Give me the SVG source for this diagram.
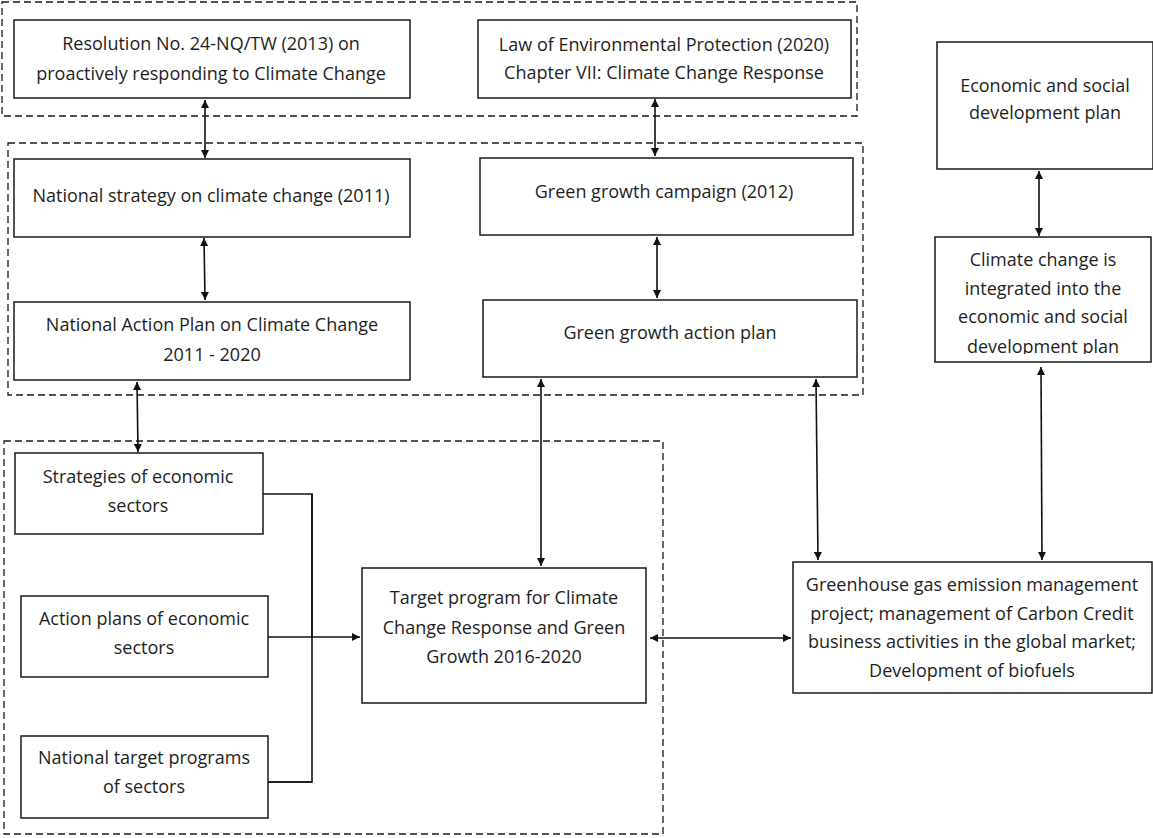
<svg xmlns="http://www.w3.org/2000/svg" width="1153" height="838" viewBox="0 0 1153 838">
  <defs>
    <style>
      .box { fill: #ffffff; stroke: #1a1a1a; stroke-width: 1.5; }
      .group { fill: none; stroke: #1a1a1a; stroke-width: 1.3; stroke-dasharray: 7 4; }
      .t { font-family: "Open Sans", "Noto Sans", sans-serif; font-size: 18px; fill: #1e1e1e; text-anchor: middle; }
      .link { fill: none; stroke: #111111; stroke-width: 1.6; }
      .arr { marker-end: url(#head); }
      .both { marker-start: url(#head); marker-end: url(#head); }
    </style>
    <marker id="head" viewBox="0 0 10 10" refX="10" refY="5" markerWidth="9" markerHeight="8" markerUnits="userSpaceOnUse" orient="auto-start-reverse">
      <path d="M0,0 L10,5 L0,10 z" fill="#111111"/>
    </marker>
    <clipPath id="clip-integrated">
      <rect x="935" y="237" width="216" height="117"/>
    </clipPath>
  </defs>

  <!-- dashed groupings -->
  <g id="groups">
    <rect class="group" x="2" y="2" width="855" height="114"/>
    <rect class="group" x="8" y="143" width="855" height="252"/>
    <rect class="group" x="4" y="441" width="659" height="393"/>
  </g>

  <!-- connectors -->
  <g id="connectors">
    <line class="link both" x1="205" y1="100" x2="205" y2="158"/>
    <line class="link both" x1="655" y1="99" x2="655" y2="156"/>
    <line class="link both" x1="204" y1="238" x2="205" y2="300"/>
    <line class="link both" x1="657" y1="237" x2="657" y2="298"/>
    <line class="link both" x1="137" y1="382" x2="138" y2="452"/>
    <line class="link both" x1="541" y1="379" x2="541" y2="566"/>
    <line class="link both" x1="816" y1="379" x2="818" y2="560"/>
    <line class="link both" x1="1041" y1="367" x2="1042" y2="560"/>
    <line class="link both" x1="1039" y1="171" x2="1039" y2="236"/>
    <line class="link both" x1="650" y1="638" x2="791" y2="638"/>
    <!-- sector inputs merge into one feed -->
    <polyline class="link" points="263,494 312,494 312,637"/>
    <line class="link" x1="312" y1="494" x2="312" y2="637" stroke-width="3"/>
    <polyline class="link" points="312,637 312,782 268,782"/>
    <line class="link" x1="268" y1="782" x2="312" y2="782" stroke-width="2.4"/>
    <line class="link arr" x1="268" y1="637" x2="360" y2="637"/>
  </g>

  <!-- nodes -->
  <g id="resolution">
    <rect class="box" x="14" y="20" width="396" height="78"/>
    <text class="t" x="211" y="50">Resolution No. 24-NQ/TW (2013) on</text>
    <text class="t" x="211" y="80">proactively responding to Climate Change</text>
  </g>
  <g id="law">
    <rect class="box" x="478" y="20" width="373" height="78"/>
    <text class="t" x="664" y="51">Law of Environmental Protection (2020)</text>
    <text class="t" x="664" y="79">Chapter VII: Climate Change Response</text>
  </g>
  <g id="economic-plan">
    <rect class="box" x="937" y="42" width="216" height="127"/>
    <text class="t" x="1045" y="92">Economic and social</text>
    <text class="t" x="1045" y="119">development plan</text>
  </g>
  <g id="national-strategy">
    <rect class="box" x="14" y="159" width="396" height="78"/>
    <text class="t" x="211" y="202">National strategy on climate change (2011)</text>
  </g>
  <g id="green-campaign">
    <rect class="box" x="480" y="158" width="373" height="77"/>
    <text class="t" x="664" y="198">Green growth campaign (2012)</text>
  </g>
  <g id="climate-integrated">
    <rect class="box" x="935" y="237" width="216" height="125"/>
    <g clip-path="url(#clip-integrated)">
      <text class="t" x="1043" y="266">Climate change is</text>
      <text class="t" x="1043" y="295">integrated into the</text>
      <text class="t" x="1043" y="323">economic and social</text>
      <text class="t" x="1043" y="353">development plan</text>
    </g>
  </g>
  <g id="national-action-plan">
    <rect class="box" x="14" y="302" width="396" height="78"/>
    <text class="t" x="212" y="331">National Action Plan on Climate Change</text>
    <text class="t" x="212" y="361">2011 - 2020</text>
  </g>
  <g id="green-action-plan">
    <rect class="box" x="483" y="300" width="374" height="77"/>
    <text class="t" x="670" y="339">Green growth action plan</text>
  </g>
  <g id="sector-strategies">
    <rect class="box" x="15" y="453" width="248" height="81"/>
    <text class="t" x="138" y="483">Strategies of economic</text>
    <text class="t" x="138" y="512">sectors</text>
  </g>
  <g id="sector-action-plans">
    <rect class="box" x="21" y="596" width="247" height="81"/>
    <text class="t" x="144" y="625">Action plans of economic</text>
    <text class="t" x="144" y="654">sectors</text>
  </g>
  <g id="sector-target-programs">
    <rect class="box" x="21" y="736" width="247" height="82"/>
    <text class="t" x="144" y="764">National target programs</text>
    <text class="t" x="144" y="793">of sectors</text>
  </g>
  <g id="target-program">
    <rect class="box" x="362" y="568" width="284" height="135"/>
    <text class="t" x="504" y="604">Target program for Climate</text>
    <text class="t" x="504" y="634">Change Response and Green</text>
    <text class="t" x="504" y="663">Growth 2016-2020</text>
  </g>
  <g id="greenhouse">
    <rect class="box" x="793" y="562" width="359" height="131"/>
    <text class="t" x="972" y="591">Greenhouse gas emission management</text>
    <text class="t" x="972" y="620">project; management of Carbon Credit</text>
    <text class="t" x="972" y="648">business activities in the global market;</text>
    <text class="t" x="972" y="677">Development of biofuels</text>
  </g>
</svg>
